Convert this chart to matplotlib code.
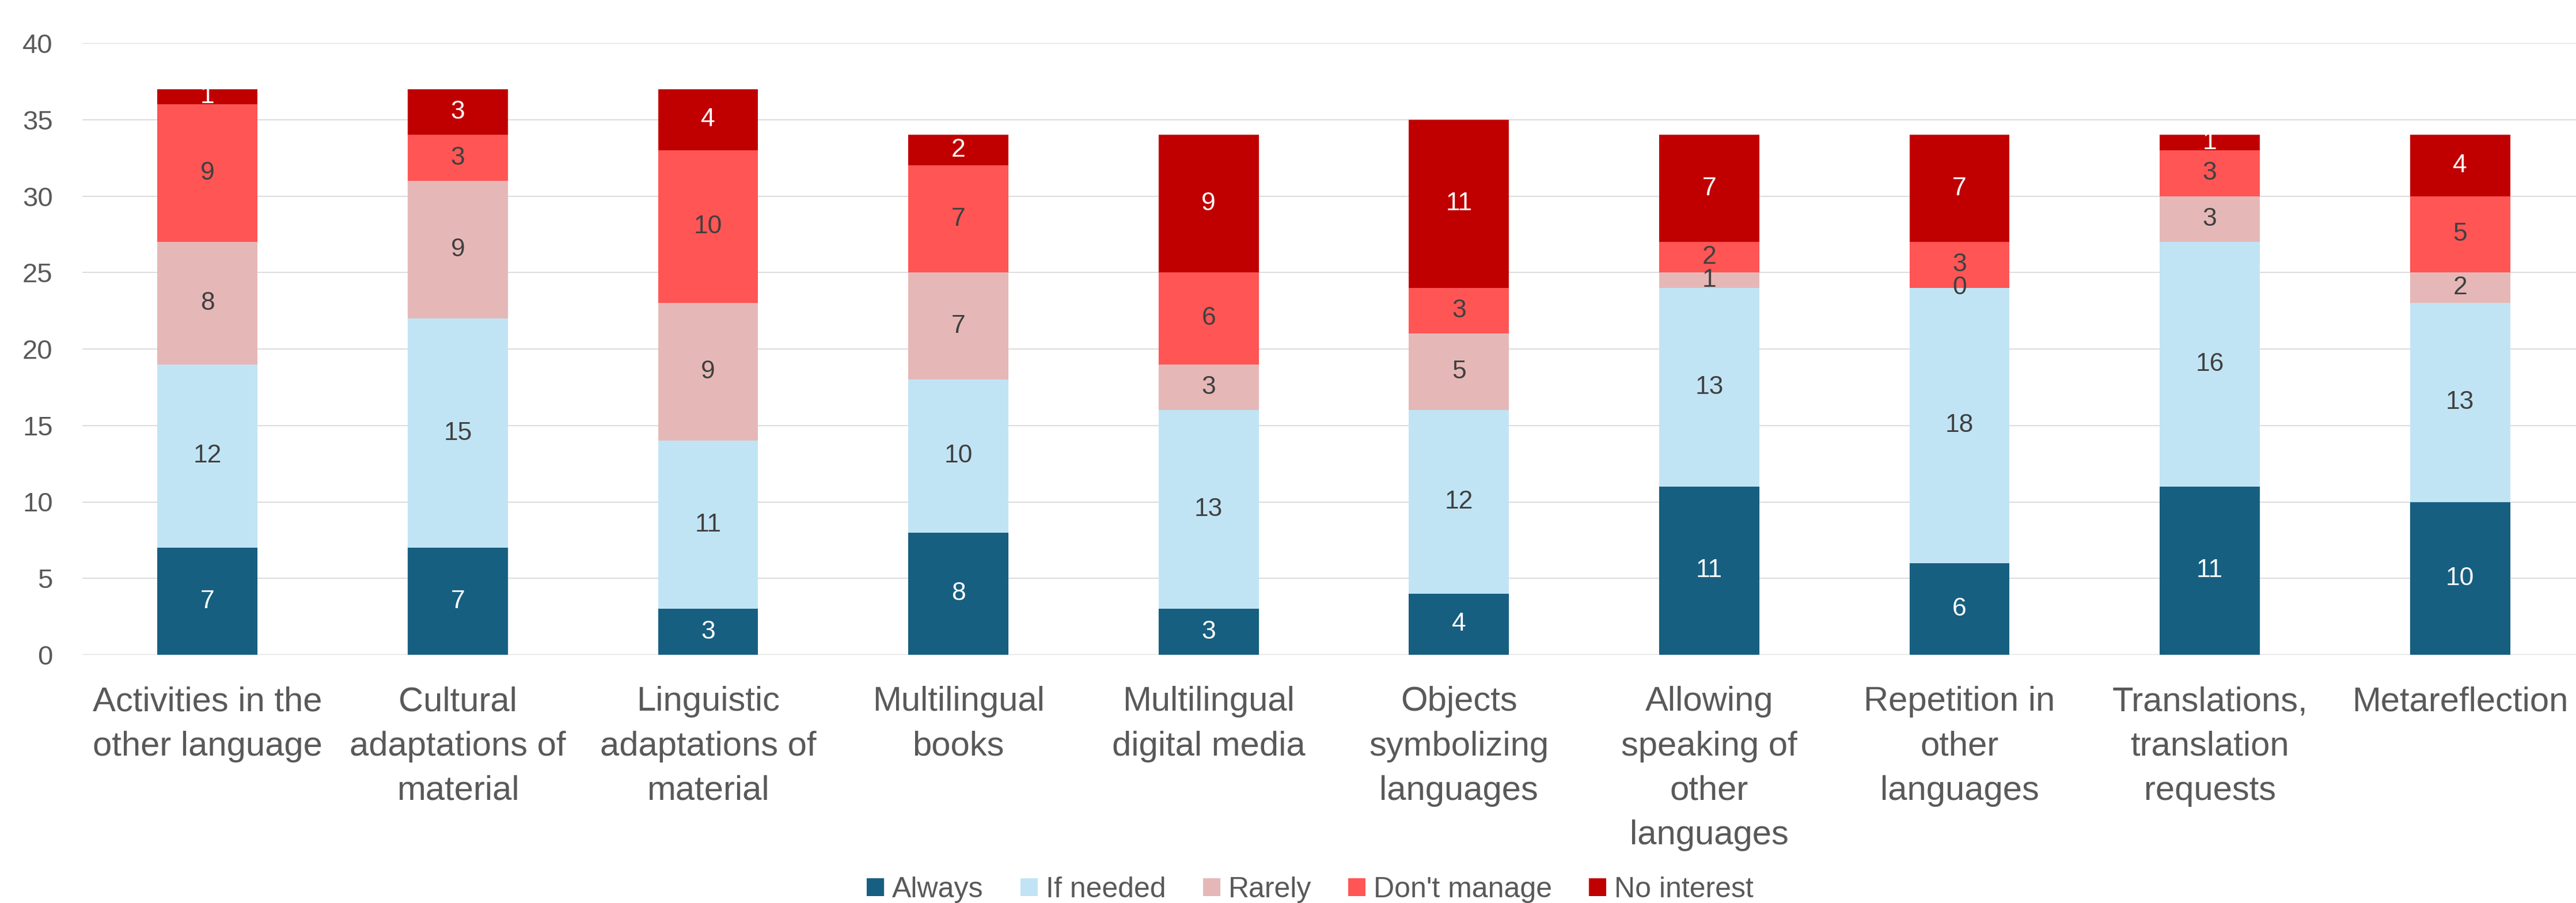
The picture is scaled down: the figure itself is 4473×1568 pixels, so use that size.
import matplotlib
matplotlib.use("Agg")
import matplotlib.pyplot as plt
import numpy as np

plt.rcParams['font.family'] = ['Liberation Sans', 'DejaVu Sans']

categories = [
    "Activities in the\nother language",
    "Cultural\nadaptations of\nmaterial",
    "Linguistic\nadaptations of\nmaterial",
    "Multilingual\nbooks",
    "Multilingual\ndigital media",
    "Objects\nsymbolizing\nlanguages",
    "Allowing\nspeaking of\nother\nlanguages",
    "Repetition in\nother\nlanguages",
    "Translations,\ntranslation\nrequests",
    "Metareflection",
]

always = [7, 7, 3, 8, 3, 4, 11, 6, 11, 10]
if_needed = [12, 15, 11, 10, 13, 12, 13, 18, 16, 13]
rarely = [8, 9, 9, 7, 3, 5, 1, 0, 3, 2]
dont_manage = [9, 3, 10, 7, 6, 3, 2, 3, 3, 5]
no_interest = [1, 3, 4, 2, 9, 11, 7, 7, 1, 4]

series_names = ["Always", "If needed", "Rarely", "Don't manage", "No interest"]
series_values = [always, if_needed, rarely, dont_manage, no_interest]
series_colors = ["#175F80", "#C1E4F5", "#E5B8B7", "#FF5555", "#C00000"]
label_colors = ["white", "#404040", "#404040", "#404040", "white"]

W, H = 4473, 1568
fig = plt.figure(figsize=(W / 100, H / 100), dpi=100)
ax = fig.add_axes([143 / W, 431 / H, 4346 / W, 1062 / H])

x = np.arange(len(categories))
bottom = np.zeros(len(categories))
for name, vals, col, lcol in zip(series_names, series_values, series_colors, label_colors):
    vals = np.array(vals, dtype=float)
    ax.bar(x, vals, width=0.4, bottom=bottom, color=col, label=name, zorder=3)
    for xi, b, v in zip(x, bottom, vals):
        ax.text(xi, b + v / 2, f"{int(v)}", ha="center", va="center",
                fontsize=32, color=lcol, zorder=4)
    bottom += vals

ax.set_xlim(-0.5, 9.5)
ax.set_ylim(0, 40)
ax.set_yticks(range(0, 41, 5))
ax.grid(axis="y", color="#D9D9D9", linewidth=1.3, zorder=0)
ax.set_axisbelow(True)
for s in ax.spines.values():
    s.set_visible(False)
ax.tick_params(axis="both", length=0, colors="#595959")
ax.tick_params(axis="y", labelsize=34, pad=37)
ax.set_xticks(x)
ax.set_xticklabels(categories, fontsize=43, linespacing=1.52, va="top")
ax.tick_params(axis="x", pad=39)

fig.legend(loc="center", bbox_to_anchor=(2275 / W, 1 - 1545 / H), ncol=5,
           frameon=False, fontsize=36, labelcolor="#595959",
           handlelength=0.6, handleheight=0.6, handletextpad=0.28,
           columnspacing=1.28, borderpad=0.2)

fig.savefig("out.png", dpi=100)
